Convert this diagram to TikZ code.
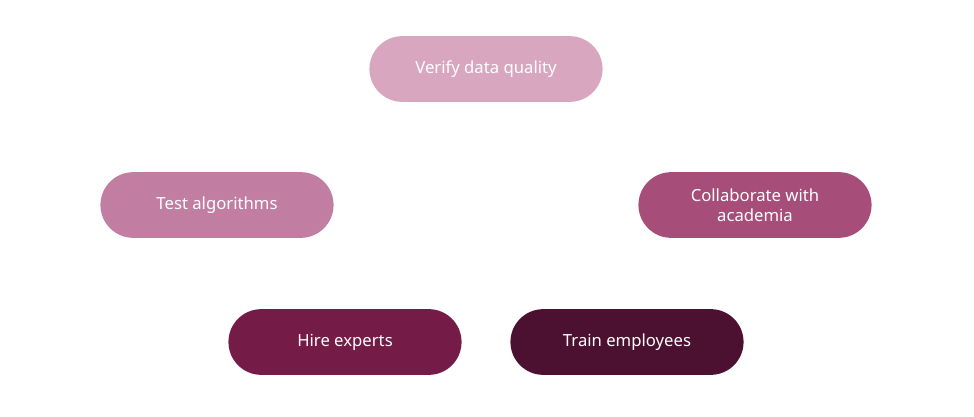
\documentclass[tikz,border=0pt]{standalone}
\usepackage{fontspec}
\setmainfont{Noto Sans}
\definecolor{pillA}{HTML}{D8A7BF}
\definecolor{pillB}{HTML}{C27EA2}
\definecolor{pillC}{HTML}{A64D79}
\definecolor{pillD}{HTML}{741B47}
\definecolor{pillE}{HTML}{4C1130}
\tikzset{
pill/.style={draw=none, fill=#1, text=white, rounded corners=18.7pt,
  minimum width=132.7pt, minimum height=37.4pt, align=center,
  font=\fontsize{9.5}{11.5}\selectfont}
}
\begin{document}
\begin{tikzpicture}[x=0.02cm,y=0.02cm]
\useasboundingbox (0,0) rectangle (974,416);

\node[pill=pillA] (verify) at (486,347) {Verify data quality};
\node[pill=pillB] (test) at (217,211) {Test algorithms};
\node[pill=pillC] (collab) at (755,211) {Collaborate with\\academia};
\node[pill=pillD] (hire) at (345,74) {Hire experts};
\node[pill=pillE] (train) at (627,74) {Train employees};

\end{tikzpicture}
\end{document}
